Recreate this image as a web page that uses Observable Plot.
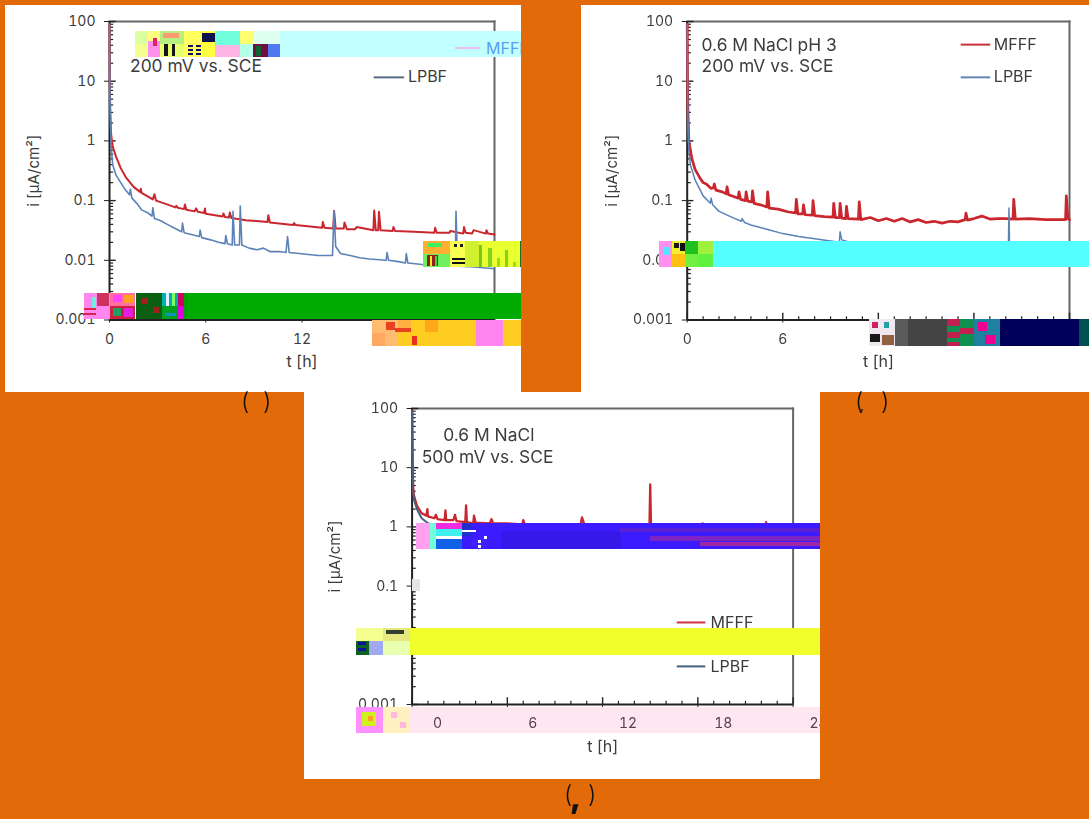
<!DOCTYPE html>
<html><head><meta charset="utf-8">
<script src="https://cdn.jsdelivr.net/npm/d3@7"></script>
<script src="https://cdn.jsdelivr.net/npm/@observablehq/plot@0.6"></script>
<style>
html,body{margin:0;padding:0;background:#e36a09;width:1089px;height:819px;overflow:hidden}
#page{position:relative;width:1089px;height:819px;overflow:hidden;filter:blur(.6px);font-family:Inter,sans-serif}
.panel{position:absolute;background:#fff;overflow:hidden}
.panel svg{display:block;background:transparent;overflow:hidden}
.p{position:absolute}
.t{position:absolute;color:#111;white-space:nowrap;line-height:1}
</style></head><body><div id="page"></div>
<script>
// ---- values: [t in h, i in µA/cm²] ----
const mfffA=[[0,90],[.02,10],[.05,3],[.1,1.3],[.2,.8],[.4,.55],[.7,.35],[1,.25],[1.5,.17],[1.9,.14],[1.95,.158],[2,.135],[2.7,.105],[2.8,.128],[2.9,.1],[3.5,.088],[4.1,.077],[4.17,.082],[4.25,.076],[4.65,.072],[4.7,.086],[4.8,.07],[5.3,.066],[5.4,.074],[5.5,.065],[5.9,.062],[5.95,.074],[6,.06],[7.05,.054],[7.1,.061],[7.2,.053],[7.45,.052],[7.5,.063],[7.6,.051],[8.5,.047],[9.85,.044],[9.9,.057],[10,.043],[11.45,.039],[11.5,.042],[11.6,.039],[13.25,.035],[13.3,.044],[13.4,.035],[13.95,.034],[14,.067],[14.1,.034],[14.6,.034],[14.65,.043],[14.8,.033],[15.3,.033],[15.4,.036],[16.45,.032],[16.5,.068],[16.6,.032],[16.75,.032],[16.8,.065],[16.9,.032],[17.65,.031],[17.7,.036],[17.8,.031],[19,.03],[20.25,.029],[20.3,.035],[20.4,.029],[21.2,.029],[21.25,.031],[22.05,.028],[22.1,.036],[22.2,.029],[22.6,.028],[22.7,.032],[23.45,.028],[23.5,.032],[23.6,.028],[24,.027]];
const lpbfA=[[0,90],[.02,10],[.05,3],[.1,.8],[.2,.4],[.4,.27],[.7,.2],[1,.15],[1.25,.125],[1.3,.155],[1.4,.11],[1.7,.09],[2,.07],[2.4,.062],[2.65,.055],[2.7,.076],[2.8,.05],[3.2,.046],[3.6,.04],[4,.035],[4.5,.03],[4.55,.042],[4.65,.029],[5.1,.027],[5.6,.025],[5.65,.032],[5.75,.024],[6.3,.022],[6.8,.02],[7.2,.019],[7.25,.026],[7.35,.019],[7.65,.018],[7.7,.066],[7.8,.018],[8.1,.018],[8.15,.081],[8.25,.018],[8.7,.016],[9.2,.015],[9.6,.016],[10,.014],[10.6,.014],[11,.0135],[11.1,.025],[11.2,.0135],[11.8,.013],[12.4,.0125],[13,.012],[13.6,.012],[13.9,.012],[14,.066],[14.1,.017],[14.4,.013],[15,.012],[15.6,.011],[16.2,.0105],[17.25,.01],[17.3,.0135],[17.4,.01],[18,.0095],[18.45,.009],[18.5,.013],[18.6,.009],[19.5,.0085],[20.5,.0082],[21.55,.008],[21.6,.066],[21.7,.008],[22.5,.0078],[23.3,.0075],[24,.0072]];
const mfffB=[[0,90],[.02,10],[.05,3],[.1,1],[.3,.5],[.5,.33],[.8,.24],[1,.2],[1.2,.19],[1.5,.16],[1.65,.165],[1.7,.19],[1.8,.15],[2.2,.14],[2.45,.13],[2.5,.17],[2.6,.125],[3,.115],[3.2,.11],[3.25,.14],[3.35,.105],[3.65,.1],[3.7,.14],[3.8,.098],[4.05,.095],[4.1,.145],[4.2,.09],[4.6,.085],[5,.078],[5.05,.14],[5.15,.075],[5.7,.072],[6.3,.065],[6.8,.062],[6.85,.105],[6.95,.06],[7.25,.06],[7.3,.085],[7.4,.058],[7.85,.057],[7.9,.1],[8,.056],[8.6,.054],[9.15,.053],[9.2,.09],[9.3,.052],[9.55,.052],[9.6,.09],[9.7,.051],[9.95,.05],[10,.08],[10.1,.05],[10.75,.049],[10.8,.095],[10.9,.048],[11.5,.052],[12,.046],[12.5,.05],[13,.045],[13.5,.05],[14,.044],[14.5,.048],[15,.043],[15.5,.045],[16,.042],[16.5,.045],[17,.044],[17.45,.048],[17.5,.062],[17.6,.047],[18,.05],[18.5,.055],[19,.049],[19.5,.05],[20,.05],[20.45,.049],[20.5,.105],[20.6,.049],[21.5,.05],[22.5,.048],[23.75,.048],[23.8,.12],[23.9,.05],[24,.048]];
const lpbfB=[[0,90],[.02,10],[.05,2],[.1,.7],[.2,.4],[.5,.22],[1,.12],[1.45,.09],[1.5,.11],[1.6,.085],[2,.066],[3,.05],[3.4,.045],[3.45,.05],[3.6,.043],[4,.039],[5,.033],[6,.028],[7,.025],[8,.023],[9,.021],[9.55,.02],[9.6,.03],[9.7,.022],[10.2,.02],[11,.019],[11.5,.02],[12,.018],[13,.016],[14,.014],[16,.012],[18,.0105],[20.15,.0095],[20.2,.075],[20.25,.0095],[22,.009],[24,.0085]];
const mfffC=[[0,90],[.02,30],[.05,6],[.1,3.5],[.3,2.3],[.6,1.7],[.9,1.55],[.96,2],[1,1.5],[1.4,1.4],[1.5,1.6],[1.6,1.35],[2.05,1.3],[2.1,1.9],[2.15,1.3],[2.6,1.3],[2.7,1.6],[2.8,1.25],[3.35,1.2],[3.4,2.3],[3.45,1.2],[3.85,1.15],[3.9,1.55],[4,1.18],[4.9,1.15],[5,1.35],[5.1,1.15],[6,1.15],[6.95,1.1],[7,1.3],[7.1,1.1],[8.5,1.07],[10.6,1.05],[10.7,1.45],[10.8,1.2],[10.9,1.05],[12,1.03],[14.95,1],[15,5.2],[15.05,1],[16,.98],[18.25,.92],[18.3,1.15],[18.35,.92],[20,.85],[22.25,.75],[22.3,1.2],[22.35,.75],[24,.7]];
const lpbfC=[[0,90],[.02,20],[.05,5],[.1,3],[.3,2],[.6,1.4],[1,1.15],[1.5,1.05],[2,1],[3,.98],[6,.95],[12,.88],[18,.78],[24,.7]];
const yMajor=[.001,.01,.1,1,10,100];
const yMinor=[.002,.003,.004,.005,.006,.007,.008,.009,.02,.03,.04,.05,.06,.07,.08,.09,.2,.3,.4,.5,.6,.7,.8,.9,2,3,4,5,6,7,8,9,20,30,40,50,60,70,80,90];
const xMajor=[0,6,12,18,24];
const xMinor=[1,2,3,4,5,7,8,9,10,11,13,14,15,16,17,19,20,21,22,23];
const notes={
 a:[[2.6,39.5,"0.6 M NaCl"],[1.28,17.6,"200 mV vs. SCE"]],
 b:[[.9,39.5,"0.6 M NaCl pH 3"],[.9,17.6,"200 mV vs. SCE"]],
 c:[[1.96,35.4,"0.6 M NaCl"],[.6,15,"500 mV vs. SCE"]]
};
const legends={
 a:[[16.5,18.4,18.6,11.6,"LPBF","#5a6c84"]],
 b:[[17.2,19.05,19.25,41,"MFFF","#c8303c"],[17.2,19.05,19.25,11.6,"LPBF","#5f86b4"]],
 c:[[16.7,18.5,18.8,.0243,"MFFF","#d03040"],[16.7,18.5,18.8,.0044,"LPBF","#44607c"]]
};

// ---- layout of the three figures ----
const page=document.getElementById("page");
const ink="#3c3c3c";
function fig(o){
 const m=[Plot.frame({anchor:"top",stroke:"#666",strokeWidth:2}),Plot.frame({anchor:"right",stroke:"#666",strokeWidth:2}),
  Plot.axisY({ticks:yMajor,tickFormat:d=>String(d),tickSize:5,tickPadding:9,fontSize:14,color:ink,stroke:"#222",label:null}),
  Plot.axisY({ticks:[],label:"i [µA/cm²]",labelAnchor:"center",labelArrow:"none",labelOffset:o.yOff,fontSize:15,color:ink}),
  Plot.axisX({ticks:xMajor,tickSize:3,text:null,label:null,stroke:"#222"}),
  Plot.axisX({ticks:xMajor,tickSize:0,tickPadding:14,dx:o.dx||0,fontSize:14,color:o.tickColor||ink,label:null}),
  Plot.axisX({ticks:[],label:"t [h]",labelAnchor:"center",labelArrow:"none",labelOffset:47,fontSize:16,color:ink}),
  Plot.ruleY(yMinor,{y:d=>d,x1:0,x2:.26,stroke:"#222",strokeWidth:1.2}),
  Plot.ruleY(yMajor,{y:d=>d,x1:0,x2:.42,stroke:"#222",strokeWidth:1.4}),
  Plot.ruleX(xMinor,{x:d=>d,y1:.001,y2:.00113,stroke:"#222",strokeWidth:1.2}),
  Plot.ruleX(xMajor,{x:d=>d,y1:.001,y2:.0013,stroke:"#222",strokeWidth:1.4}),
  Plot.ruleX([0],{stroke:"#222",strokeWidth:2}),Plot.ruleY([.001],{stroke:"#222",strokeWidth:2}),
  Plot.line(o.red,{x:d=>d[0],y:d=>d[1],stroke:"#c9262e",strokeWidth:o.rw,curve:"linear"}),
  Plot.line(o.blue,{x:d=>d[0],y:d=>d[1],stroke:o.bc,strokeWidth:o.bw,curve:"linear"}),
  Plot.text(o.notes,{x:d=>d[0],y:d=>d[1],text:d=>d[2],textAnchor:"start",fontSize:17.4,fill:ink}),
  Plot.ruleY(o.leg,{y:d=>d[3],x1:d=>d[0],x2:d=>d[1],stroke:d=>d[5],strokeWidth:2}),
  Plot.text(o.leg,{x:d=>d[2],y:d=>d[3],text:d=>d[4],textAnchor:"start",fontSize:16,fill:ink})
 ];
 const s=Plot.plot({width:o.w,height:387,marginLeft:o.l,marginRight:o.r,marginTop:16,marginBottom:o.b,
  x:{domain:[0,24],axis:null},y:{type:"log",domain:[.001,100],axis:null},marks:m,
  style:{fontFamily:"Inter,sans-serif",background:"transparent"}});
 const d=document.createElement("div");d.className="panel";
 d.style.cssText=`left:${o.x}px;top:${o.y}px;width:${o.w}px;height:387px`;
 d.appendChild(s);page.appendChild(d);
}
fig({x:5,y:5,w:516,l:104,r:27,b:72.5,yOff:81,red:mfffA,blue:lpbfA,bc:"#5b82b8",rw:2,bw:1.6,notes:notes.a,leg:legends.a});
fig({x:581,y:5,w:508,l:105.7,r:20,b:72.5,yOff:81,red:mfffB,blue:lpbfB,bc:"#5b82b8",rw:2.7,bw:1.5,notes:notes.b,leg:legends.b});
fig({x:304,y:392,w:516,l:107.6,r:27.4,b:75,yOff:83,dx:25.5,tickColor:"#5a4450",red:mfffC,blue:lpbfC,bc:"#4a5f80",rw:2.3,bw:2,notes:notes.c,leg:legends.c});

// ---- damaged blocks of the source picture, painted over the figures ----
const blocks=[
 // panel a, top band
 [135,31,386,26,"#c2ffff"],[135,31,13,26,"#dcffa0"],[135,44,13,13,"#f4ff90"],[148,31,14,10,"#ffff80"],[148,41,14,16,"#ff90ee"],[153,38,4,8,"#e0206a"],
 [160,31,24,13,"#b8f080"],[163,33,16,5,"#ff9a70"],[160,44,28,13,"#e8ff70"],[164,44,4,12,"#151515"],[172,44,3,12,"#151515"],[184,31,18,26,"#ffff60"],[188,45,5,2,"#101060"],[188,49,5,2,"#101060"],[188,53,5,2,"#101060"],[196,45,5,2,"#101060"],[196,49,5,2,"#101060"],[196,53,5,2,"#101060"],
 [202,31,13,26,"#ffff40"],[202,33,13,9,"#10104c"],[215,31,25,14,"#70ffdc"],[215,45,25,12,"#ffb4e8"],[240,31,13,13,"#ffff70"],[240,44,13,13,"#b4ffe8"],[253,44,15,13,"#701040"],[256,46,5,10,"#106030"],[268,44,12,13,"#5078f0"],[253,31,27,13,"#ddfff0"],
 // panel a, right patch
 [423,241,98,26,"#e8ff30"],[423,241,27,13,"#ffb030"],[428,243,14,4,"#40f060"],[423,254,27,13,"#70f060"],[427,255,11,11,"#902020"],[430,256,2,10,"#f0f020"],[435,256,2,10,"#40d040"],[450,241,15,26,"#f8ff50"],[454,244,3,3,"#202020"],[460,244,3,3,"#202020"],[452,258,13,2,"#111"],[452,262,13,2,"#111"],[465,241,14,26,"#d0f030"],
 [479,245,3,22,"#78c820"],[488,248,4,19,"#88d020"],[497,258,3,9,"#a0d820"],[505,250,3,17,"#88d020"],[513,262,3,5,"#a0d820"],[520,241,1,26,"#207020"],
 // panel a, green band
 [188,293,333,26,"#00aa00"],[83.5,293,26,26,"#ff88f0"],[92,297,4,12,"#70f0e0"],[83.5,308,12,2,"#e02050"],[83.5,313,12,2,"#e02050"],[97,293,12,13,"#d03060"],[110,293,25,13,"#ff70a0"],[113,295,9,7,"#ff40ff"],[124,295,10,8,"#ffa020"],[110,306,25,13,"#d02040"],[113,308,8,8,"#20a060"],[124,308,9,9,"#e020e0"],
 [136,293,26,26,"#0a6010"],[142,298,6,6,"#a02020"],[153,307,6,6,"#a02020"],[162,293,16,13,"#00b0b0"],[166,293,3,13,"#e0f0ff"],[172,293,3,13,"#80ff60"],[162,306,16,13,"#00a020"],[165,313,11,3,"#1090c0"],[178,293,10,13,"#d00060"],[178,306,10,13,"#e000e0"],[184,293,4,26,"#00a000"],
 // panel a, amber band
 [372,320,149,26,"#ffcc22"],[372,320,26,26,"#ffbc70"],[372,333,13,13,"#ffa860"],[398,320,13,12,"#ffb040"],[386,322,9,8,"#e84020"],[395,328,16,4,"#e84020"],[412,336,5,9,"#e83020"],[425,320,13,12,"#ffa818"],[476,320,27,26,"#ff84f0"],
 // panel b, cyan band
 [659,241,430,26,"#55ffff"],[659,241,13,26,"#ff90f0"],[664,247,6,8,"#50e8ff"],[672,241,13,13,"#f0f030"],[674,243,5,5,"#181818"],[680,243,5,8,"#101010"],[672,254,13,13,"#ffc010"],[685,241,13,13,"#20c020"],[685,254,13,13,"#70f040"],[698,241,15,13,"#a0f040"],[698,254,15,13,"#60f040"],
 // panel b, bottom band
 [869,319,26,27,"#f0e8f0"],[872,322,6,6,"#d02060"],[884,322,5,6,"#20a0a0"],[870,334,10,8,"#181818"],[882,335,12,10,"#906040"],[895,319,13,27,"#5a5a5a"],[908,319,39,27,"#444444"],[947,319,13,27,"#c02050"],[947,326,13,6,"#109050"],[947,338,13,4,"#109050"],[960,319,14,27,"#109050"],[960,328,14,6,"#c02050"],[974,319,26,27,"#2080a0"],[978,322,9,9,"#f00090"],[985,335,10,9,"#f00090"],[1000,319,79,27,"#00005a"],[1079,319,10,27,"#005050"],
 // panel c, blue band
 [416,523,404,26,"#3c1cff"],[501,531,120,18,"#3618e8"],[620,528,200,4,"#5a20d8"],[650,536,170,5,"#7c24c4"],[700,542,120,4,"#a028a8"],[416,523,14,26,"#ffa0f0"],[430,523,6,26,"#70ffd8"],[436,523,26,6,"#f02ce0"],[436,529,26,7,"#40f0f0"],[436,536,26,3,"#fff"],[436,539,26,10,"#1060e8"],[462,523,10,13,"#2030d0"],[462,530,14,2,"#fff"],[472,538,15,9,"#4020ff"],[478,540,3,3,"#fff"],[484,536,3,3,"#fff"],[478,545,3,3,"#fff"],
 // panel c, faint smear beside the 0.1 tick
 [412,579,8,12,"#e6e6e6"],
 // panel c, yellow band
 [356,628,464,27,"#f0ff2c"],[356,628,27,13,"#f4ff90"],[356,641,13,14,"#0c6020"],[358,642,8,3,"#1010a0"],[358,648,8,3,"#1010a0"],[369,641,14,14,"#a0a8f0"],[383,628,27,13,"#e8e880"],[386,630,18,4,"#304030"],[383,641,27,14,"#e8ffb0"],
 // panel c, lower left blocks on the pale band
 [356,707,27,26,"#ff90ff"],[362,712,14,14,"#d0f020"],[368,716,5,5,"#ffa020"],[383,707,27,26,"#fff0c0"],[391,712,6,6,"#ffb8d8"],[400,722,6,6,"#ffb8d8"]
];
const pale=[[410,707,410,26,"#fde8f1"]];
const tag=(r,blend)=>{const d=document.createElement("div");d.className="p";d.style.cssText=`left:${r[0]}px;top:${r[1]}px;width:${r[2]}px;height:${r[3]}px;background:${r[4]};`+(blend?"mix-blend-mode:multiply;":"");page.appendChild(d)};
blocks.forEach(r=>tag(r));pale.forEach(r=>tag(r,true));

// what shows through the top band of panel a
const ov=document.createElement("div");ov.className="panel";ov.style.cssText="left:5px;top:5px;width:516px;height:387px;background:none";
ov.innerHTML='<div class="p" style="left:450px;top:42px;width:25px;height:1.5px;background:#ecc0f4"></div><div class="t" style="left:481px;top:35px;font-size:16px;color:#5aa0f0;">MFFF</div>';
page.appendChild(ov);

// remaining captions
[[241,390,"("],[263,390,")"],[855,390,"("],[881,390,")"],[564,783,"("],[588,783,")"]].forEach(a=>{
 const d=document.createElement("div");d.className="t";d.style.cssText=`left:${a[0]}px;top:${a[1]}px;font-size:24px;font-weight:300`;d.textContent=a[2];page.appendChild(d);});
[[570,782,",",30,900],[860,398,",",14,400]].forEach(a=>{
 const d=document.createElement("div");d.className="t";d.style.cssText=`left:${a[0]}px;top:${a[1]}px;font-size:${a[3]}px;font-weight:${a[4]}`;d.textContent=a[2];page.appendChild(d);});
</script></body></html>
